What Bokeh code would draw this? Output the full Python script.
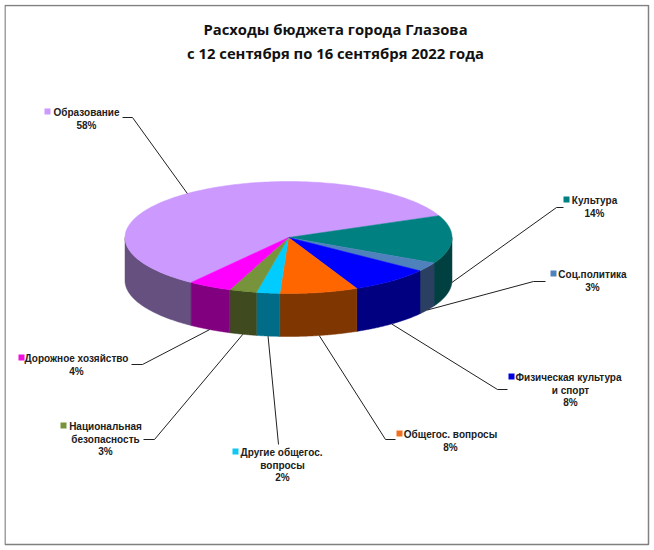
import numpy as np
from bokeh.plotting import figure
from bokeh.models import Range1d
from bokeh.core.properties import value
from bokeh.embed import file_html
from bokeh.resources import INLINE

# ---- data ----
categories = ["Образование", "Культура", "Соц.политика", "Физическая культура\nи спорт",
              "Общегос. вопросы", "Другие общегос.\nвопросы", "Национальная\nбезопасность",
              "Дорожное хозяйство"]
shares = [58.4, 13.9, 2.6, 8.0, 7.7, 2.3, 2.7, 4.3]
title_lines = ["Расходы бюджета города Глазова", "с 12 сентября по 16 сентября 2022 года"]

# ---- styles ----
top_colors = ["#CC99FF", "#008080", "#4F81BD", "#0000FF", "#FF6600", "#00CCFF", "#77933C", "#FF00FF"]
side_colors = ["#66507F", "#004040", "#2B3F63", "#000080", "#803600", "#006C87", "#3F4A1F", "#800080"]
marker_colors = ["#CC99FF", "#008080", "#4F81BD", "#0000E0", "#F07020", "#10C8F0", "#77933C", "#F010E0"]

# ---- layout (reference pixels) ----
CX, CY, RX, RY, DEPTH = 288.0, 237.0, 163.5, 56.0, 43.0
START_ANGLE = 23.2 + 58.4 * 3.6      # the first slice ends at 23.2 degrees going clockwise

label_x = [86, 594, 592, 570, 450, 282, 105, 76]
label_y = [112, 200, 274, 377, 434, 452, 426, 358]
line_gap = 12.7
first_dx = [0, 0, 0, -2, 0, -1, 0, 0]
marker_x = [47, 566, 553, 511, 399, 235, 63, 21]
elbow_x = [132, 556, 533, 497, 385, 278, 154, 142]
elbow_y = [117, 207, 281, 389, 439, 444, 439, 364]
end_x = [122, 563, 545, 507, 395, 278, 143, 131]

p = figure(width=646, height=542, output_backend="svg", toolbar_location=None,
           x_range=Range1d(4, 650), y_range=Range1d(546, 4), min_border=0,
           margin=(4, 0, 0, 4))
p.xaxis.visible = False
p.yaxis.visible = False
p.xgrid.visible = False
p.ygrid.visible = False
p.outline_line_color = None

# chart frame
p.quad(left=[4.5], right=[648], top=[5], bottom=[544], fill_color="white", line_color="#808080", line_width=1.5)


def rim(t_deg):
    t = np.radians(t_deg)
    return CX + RX * np.cos(t), CY - RY * np.sin(t)


sweeps = np.array(shares) / sum(shares) * 360.0
ends = START_ANGLE - np.cumsum(sweeps)
starts = ends + sweeps
mids = (starts + ends) / 2

for s, e, col in zip(starts, ends, side_colors):
    for k in (0, -360):
        a, b = s + k, e + k
        hi, lo = min(a, 0), max(b, -180)
        if hi <= lo:
            continue
        ts = np.linspace(hi, lo, 80)
        x, y = rim(ts)
        p.patch(np.r_[x, x[::-1]], np.r_[y, (y + DEPTH)[::-1]], fill_color=col, line_color=col, line_width=0.5)

for s, e, col in zip(starts, ends, top_colors):
    ts = np.linspace(s, e, 160)
    x, y = rim(ts)
    p.patch(np.r_[CX, x], np.r_[CY, y], fill_color=col, line_color=col, line_width=0.5)

for i, m in enumerate(mids):
    x0, y0 = rim(m)
    if np.sin(np.radians(m)) < 0:
        y0 = y0 + DEPTH
    p.line([x0, elbow_x[i], end_x[i]], [y0, elbow_y[i], elbow_y[i]], line_color="#202020", line_width=1)

for i, name in enumerate(categories):
    lines = name.split("\n") + [f"{round(shares[i])}%"]
    for j, line in enumerate(lines):
        dx = first_dx[i] if j == 0 else 0
        p.text([label_x[i] + dx], [label_y[i] + j * line_gap], text=[line], text_align="center",
               text_baseline="middle", text_font=value("Liberation Sans"), text_font_style="bold",
               text_font_size="10px", text_color="#202020")
    p.rect([marker_x[i]], [label_y[i] - 1], width=6, height=6, fill_color=marker_colors[i], line_color=None)

for y, line in zip([28, 52], title_lines):
    p.text([335], [y], text=[line], text_align="center", text_baseline="middle",
           text_font=value("Open Sans"), text_font_style="bold", text_font_size="14.8px", text_color="#111111")

open("out.html", "w").write(file_html(p, INLINE))
